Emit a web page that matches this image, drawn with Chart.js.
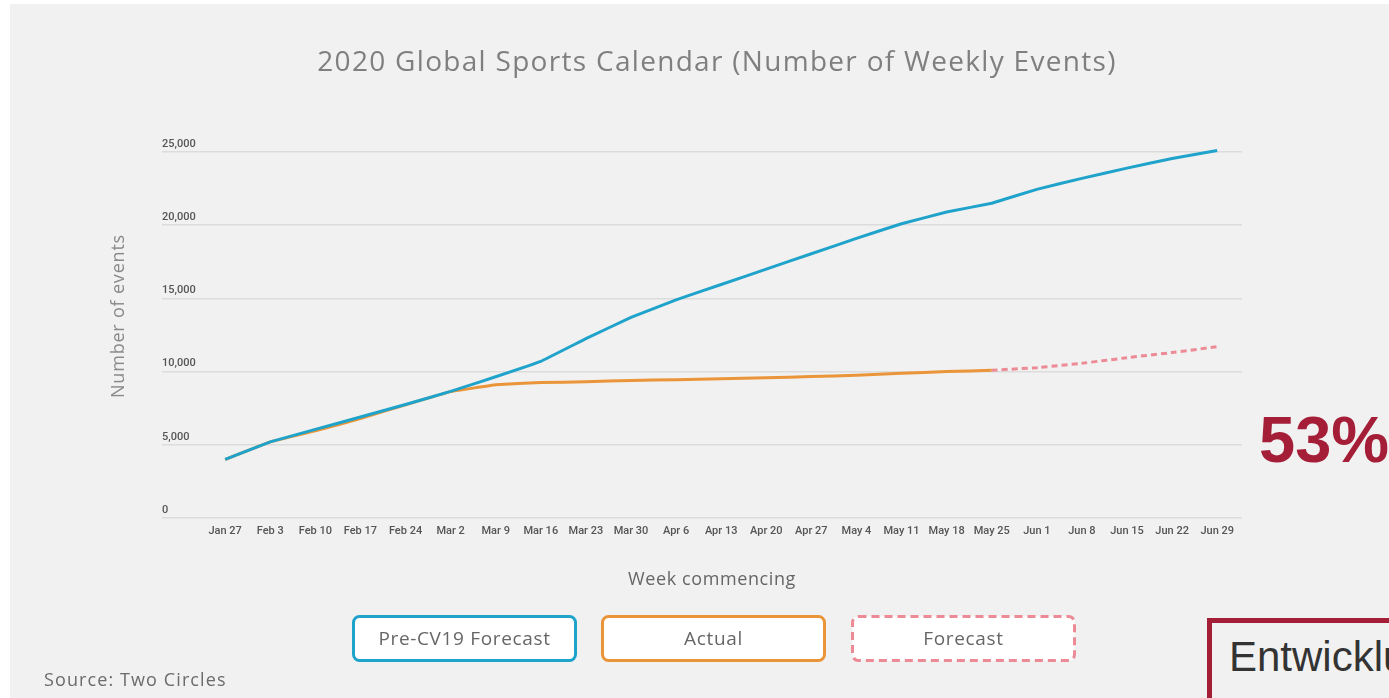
<!DOCTYPE html>
<html>
<head>
<meta charset="utf-8">
<script src="https://cdn.jsdelivr.net/npm/chart.js@4.4.0/dist/chart.umd.min.js"></script>
<style>
  html, body { margin: 0; padding: 0; background: #fff; }
  #wrap { position: relative; width: 1389px; height: 698px; overflow: hidden; font-family: "Open Sans", sans-serif; }
  #panel { position: absolute; left: 10px; top: 4px; right: 0; bottom: 0; background: #f1f1f1; }
  #chart { position: absolute; left: 0; top: 0; }
  .txt { position: absolute; white-space: nowrap; }
  #title { left: 217px; width: 1000px; top: 42px; line-height: 36px; text-align: center; font-size: 28px; letter-spacing: 1.3px; color: #7f7f7f; }
  #ytitle { left: 17px; width: 200px; top: 305px; line-height: 22px; text-align: center; font-size: 18px; letter-spacing: 0.8px; color: #8a8a8a; transform: rotate(-90deg); }
  #xtitle { left: 562px; width: 300px; top: 566px; line-height: 24px; text-align: center; font-size: 18px; letter-spacing: 0.6px; color: #666; }
  #source { left: 44px; top: 667px; line-height: 24px; font-size: 18px; letter-spacing: 1.1px; color: #6b6b6b; }
  #pct { left: 1259px; top: 400px; line-height: 80px; font-family: "Liberation Sans", Arial, sans-serif; font-weight: bold; font-size: 65px; color: #a51e37; }
  #ebox { position: absolute; left: 1207px; top: 618px; width: 300px; height: 120px; border: 5px solid #a51e37; box-sizing: border-box; background: #f1f1f1; }
  #etext { left: 1229px; top: 632px; line-height: 50px; font-family: "Liberation Sans", Arial, sans-serif; font-size: 42px; color: #333; }
</style>
</head>
<body>
<div id="wrap">
  <div id="panel"></div>
  <canvas id="chart" width="1389" height="698"></canvas>
  <div class="txt" id="title">2020 Global Sports Calendar (Number of Weekly Events)</div>
  <div class="txt" id="ytitle">Number of events</div>
  <div class="txt" id="xtitle">Week commencing</div>
  <div class="txt" id="source">Source: Two Circles</div>
  <div class="txt" id="pct">53%</div>
  <div id="ebox"></div>
  <div class="txt" id="etext">Entwicklung</div>
</div>
<script>
const weeks = ['Jan 27','Feb 3','Feb 10','Feb 17','Feb 24','Mar 2','Mar 9','Mar 16','Mar 23','Mar 30','Apr 6','Apr 13',
  'Apr 20','Apr 27','May 4','May 11','May 18','May 25','Jun 1','Jun 8','Jun 15','Jun 22','Jun 29'];

const preCv19 = [4000,5200,6050,6900,7750,8650,9650,10700,12250,13700,14900,15950,
  17000,18050,19100,20100,20900,21500,22450,23200,23900,24550,25100];

const actual = [4000,5200,5950,6800,7730,8630,9100,9250,9300,9400,9450,9520,
  9580,9660,9750,9890,10000,10090,null,null,null,null,null];

const forecast = [null,null,null,null,null,null,null,null,null,null,null,null,
  null,null,null,null,null,10090,10270,10570,10950,11300,11700];

const yTicks = [0, 5000, 10000, 15000, 20000, 25000];

const toPoints = arr => arr.map((v, i) => ({ x: i, y: v }));

// boxed legend under the chart
const boxLegend = {
  id: 'boxLegend',
  afterDraw(chart) {
    const ctx = chart.ctx;
    const lefts = [352, 601, 851];
    chart.data.datasets.forEach((ds, i) => {
      const x = lefts[i] + 1.5, y = 616.5, w = 222, h = 44;
      ctx.save();
      ctx.beginPath();
      ctx.roundRect(x, y, w, h, 6);
      ctx.fillStyle = '#ffffff';
      ctx.fill();
      ctx.lineWidth = 3;
      ctx.strokeStyle = ds.borderColor;
      ctx.setLineDash(ds.borderDash ? [8, 5] : []);
      ctx.stroke();
      ctx.setLineDash([]);
      ctx.fillStyle = '#666';
      ctx.font = '19px "Open Sans"';
      ctx.letterSpacing = '0.65px';
      ctx.textAlign = 'center';
      ctx.textBaseline = 'middle';
      ctx.fillText(ds.label, x + w / 2, y + h / 2 + 1);
      ctx.restore();
    });
  }
};

new Chart(document.getElementById('chart'), {
  type: 'line',
  data: {
    datasets: [
      { label: 'Pre-CV19 Forecast', data: toPoints(preCv19), borderColor: '#1fa3cb', borderWidth: 3, pointRadius: 0, tension: 0.05, clip: false },
      { label: 'Actual', data: toPoints(actual), borderColor: '#ea9539', borderWidth: 3, pointRadius: 0, tension: 0.05, clip: false },
      { label: 'Forecast', data: toPoints(forecast), borderColor: '#ec8a95', borderWidth: 3, borderDash: [6, 4], pointRadius: 0, tension: 0.05, clip: false }
    ]
  },
  options: {
    responsive: false,
    animation: false,
    events: [],
    layout: { padding: { left: 162, right: 147, top: 152, bottom: 140 } },
    plugins: { legend: { display: false }, tooltip: { enabled: false } },
    scales: {
      x: {
        type: 'linear',
        min: -1.4,
        max: 22.55,
        grid: { display: false },
        border: { display: false },
        afterBuildTicks: s => { s.ticks = weeks.map((w, i) => ({ value: i })); },
        afterFit: s => { s.height = 40; },
        ticks: {
          autoSkip: false, maxRotation: 0, padding: -1, color: '#555',
          font: { family: 'Roboto', size: 11, weight: '500' },
          callback: v => weeks[v] ?? ''
        }
      },
      y: {
        min: 0,
        max: 25000,
        border: { display: false },
        grid: { color: '#dcdcdc', lineWidth: 1.5, drawTicks: false },
        afterBuildTicks: s => { s.ticks = yTicks.map(v => ({ value: v })); },
        afterFit: s => { s.width = 0; },
        ticks: {
          mirror: true, padding: 0, labelOffset: -8, color: '#555',
          font: { family: 'Roboto', size: 11, weight: '500' },
          callback: v => v.toLocaleString('en-US')
        }
      }
    }
  },
  plugins: [boxLegend]
});
</script>
</body>
</html>
